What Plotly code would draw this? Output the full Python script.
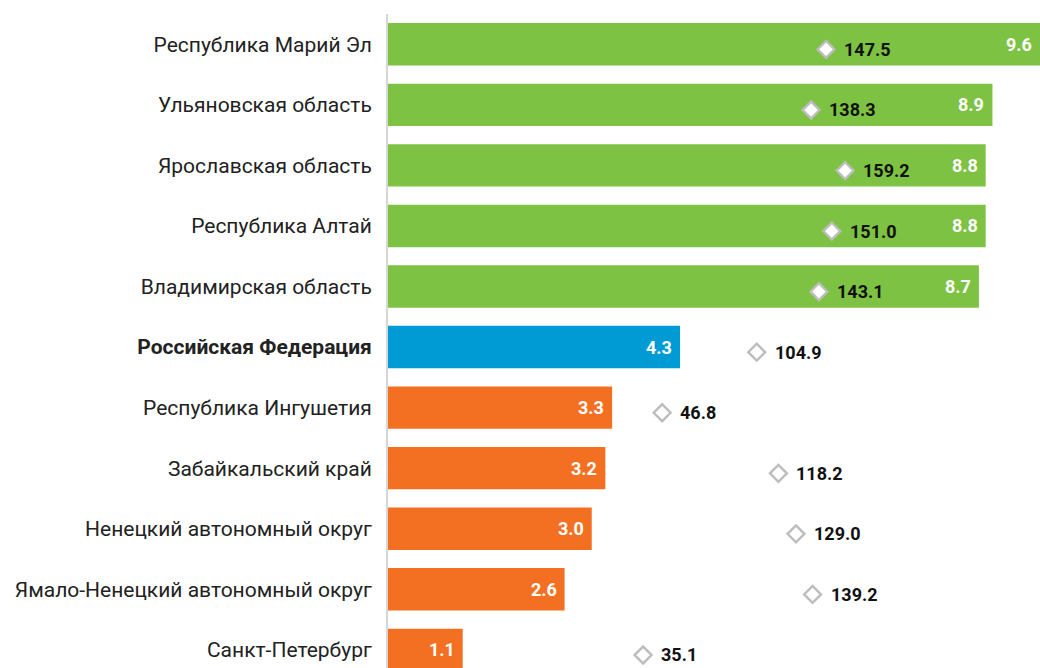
import plotly.graph_objects as go

regions = [
    "Республика Марий Эл",
    "Ульяновская область",
    "Ярославская область",
    "Республика Алтай",
    "Владимирская область",
    "Российская Федерация",
    "Республика Ингушетия",
    "Забайкальский край",
    "Ненецкий автономный округ",
    "Ямало-Ненецкий автономный округ",
    "Санкт-Петербург",
]
bar_values = [9.6, 8.9, 8.8, 8.8, 8.7, 4.3, 3.3, 3.2, 3.0, 2.6, 1.1]
index_values = [147.5, 138.3, 159.2, 151.0, 143.1, 104.9, 46.8, 118.2, 129.0, 139.2, 35.1]
groups = ["top", "top", "top", "top", "top", "rf", "bottom", "bottom", "bottom", "bottom", "bottom"]

palette = {"top": "#7DC242", "rf": "#009BD4", "bottom": "#F37022"}
colors = [palette[g] for g in groups]
tick_text = [f"<b>{r}</b>" if g == "rf" else r for r, g in zip(regions, groups)]

FONT = "Roboto, 'Noto Sans', sans-serif"

fig = go.Figure()

fig.add_trace(go.Bar(
    x=bar_values,
    y=regions,
    orientation="h",
    marker=dict(color=colors, line=dict(width=0)),
    hoverinfo="skip",
    showlegend=False,
))

fig.add_trace(go.Scatter(
    x=index_values,
    y=regions,
    xaxis="x2",
    yaxis="y2",
    mode="markers",
    marker=dict(symbol="diamond", size=13, color="white",
                line=dict(color="#BDBDBD", width=2.4)),
    hoverinfo="skip",
    showlegend=False,
))

annotations = []
for r, v in zip(regions, bar_values):
    annotations.append(dict(
        x=v, y=r, xref="x", yref="y",
        text=f"<b>{v:.1f}</b>", showarrow=False,
        xanchor="right", yanchor="middle", xshift=-6,
        font=dict(family=FONT, size=18, color="white"),
    ))
for r, v in zip(regions, index_values):
    annotations.append(dict(
        x=v, y=r, xref="x2", yref="y2",
        text=f"<b>{v:.1f}</b>", showarrow=False,
        xanchor="left", yanchor="middle", xshift=16,
        font=dict(family=FONT, size=18, color="#111111"),
    ))

y_range = [10.3, -0.5]
y_shift = 0.085

fig.update_layout(
    width=1040, height=668,
    margin=dict(l=388, r=0, t=14, b=0),
    paper_bgcolor="white",
    plot_bgcolor="white",
    bargap=0.3,
    font=dict(family=FONT, size=21, color="#222222"),
    xaxis=dict(range=[0, 9.6], visible=False, fixedrange=True),
    xaxis2=dict(range=[-121.6, 278.9], overlaying="x", visible=False),
    yaxis=dict(
        type="category",
        categoryorder="array",
        categoryarray=regions,
        tickvals=regions,
        ticktext=tick_text,
        range=y_range,
        showgrid=False,
        showline=True,
        linecolor="#D6D6D6",
        linewidth=2,
        ticks="",
        ticklabelstandoff=10,
        tickfont=dict(family=FONT, size=21, color="#222222"),
    ),
    yaxis2=dict(
        type="category",
        categoryorder="array",
        categoryarray=regions,
        range=[y_range[0] - y_shift, y_range[1] - y_shift],
        overlaying="y",
        visible=False,
    ),
    annotations=annotations,
)

fig.write_html("out.html")
